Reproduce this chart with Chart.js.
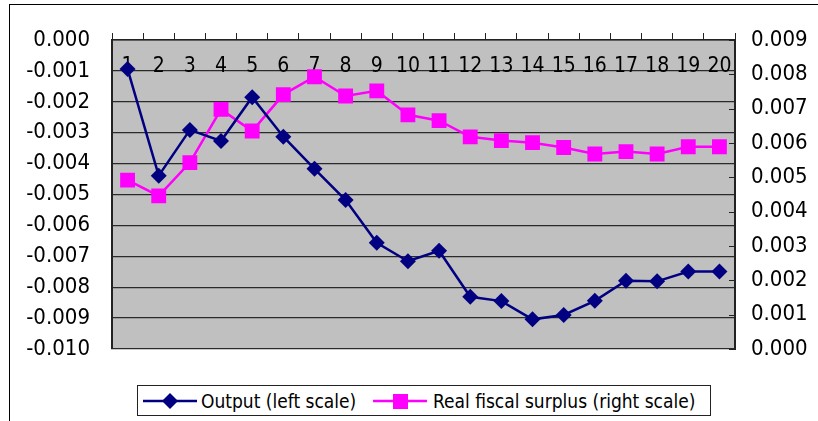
<!DOCTYPE html>
<html>
<head>
<meta charset="utf-8">
<title>Output and real fiscal surplus</title>
<script src="https://cdn.jsdelivr.net/npm/chart.js"></script>
<style>
    body {
        margin: 0;
        background: #fff;
        font-family: "Liberation Sans Narrow", "DejaVu Sans Condensed", "Liberation Sans", sans-serif;
    }
    #wrap {
        position: relative;
        width: 818px;
        height: 421px;
        overflow: hidden;
    }
    #frame {
        position: absolute;
        left: 9px;
        top: 4px;
        width: 840px;
        height: 450px;
        border: 1px solid #000;
    }
    #chart {
        position: absolute;
        left: 0;
        top: 0;
    }
    #legend {
        position: absolute;
        left: 137px;
        top: 385px;
        width: 574px;
        height: 31px;
        box-sizing: border-box;
        border: 1px solid #222;
        background: #fff;
    }
    #legend svg, #legend span {
        position: absolute;
    }
    #legend span {
        top: 3px;
        font-size: 19px;
        line-height: 24px;
        color: #000;
        white-space: nowrap;
    }
</style>
</head>
<body>
<div id="wrap">
    <div id="frame"></div>
    <canvas id="chart" width="818" height="421"></canvas>
    <div id="legend"></div>
</div>

<script>
    // periods on the horizontal axis
    var periods = ['1','2','3','4','5','6','7','8','9','10','11','12','13','14','15','16','17','18','19','20'];

    // Output (left scale)
    var output = [-0.00094, -0.00439, -0.00291, -0.00327, -0.00185, -0.00313, -0.00417, -0.00518, -0.00656, -0.00716,
                  -0.00682, -0.00831, -0.00845, -0.00904, -0.00890, -0.00844, -0.00779, -0.00781, -0.00749, -0.00749];

    // Real fiscal surplus (right scale)
    var surplus = [0.00492, 0.00446, 0.00543, 0.00698, 0.00635, 0.00741, 0.00793, 0.00737, 0.00752, 0.00682,
                   0.00665, 0.00618, 0.00607, 0.00601, 0.00587, 0.00568, 0.00575, 0.00568, 0.00589, 0.00589];

    // axis ticks
    var leftTicks = [0, -0.001, -0.002, -0.003, -0.004, -0.005, -0.006, -0.007, -0.008, -0.009, -0.010];
    var rightTicks = [0.009, 0.008, 0.007, 0.006, 0.005, 0.004, 0.003, 0.002, 0.001, 0];

    var seriesNames = ['Output (left scale)', 'Real fiscal surplus (right scale)'];
    var navy = '#000080';
    var magenta = '#ff00ff';
    var axisFont = { family: '"Liberation Sans Narrow", "DejaVu Sans Condensed", sans-serif', size: 22 };

    function fmt(v) {
        if (Math.abs(v) < 1e-9) v = 0;
        return v.toFixed(3);
    }

    // grey plot area
    var plotBackground = {
        id: 'plotBackground',
        beforeDraw: function(chart) {
            var a = chart.chartArea, ctx = chart.ctx;
            ctx.save();
            ctx.fillStyle = '#c0c0c0';
            ctx.fillRect(a.left, a.top, a.right - a.left, a.bottom - a.top);
            ctx.restore();
        }
    };

    // category labels sit just inside the top of the plot, behind the lines
    var innerLabels = {
        id: 'innerLabels',
        beforeDatasetsDraw: function(chart) {
            var x = chart.scales.x, ctx = chart.ctx;
            ctx.save();
            ctx.font = '21px ' + axisFont.family;
            ctx.fillStyle = '#000';
            ctx.textAlign = 'center';
            ctx.textBaseline = 'middle';
            periods.forEach(function(p, i) {
                ctx.fillText(p, x.getPixelForValue(i), chart.chartArea.top + 27);
            });
            ctx.restore();
        }
    };

    // short tick marks pointing inward on the right axis
    var rightTickMarks = {
        id: 'rightTickMarks',
        afterDatasetsDraw: function(chart) {
            var y1 = chart.scales.y1, ctx = chart.ctx, r = chart.chartArea.right;
            ctx.save();
            ctx.strokeStyle = '#222';
            ctx.lineWidth = 1;
            rightTicks.forEach(function(t) {
                var py = Math.round(y1.getPixelForValue(t)) + 0.5;
                ctx.beginPath();
                ctx.moveTo(r - 6, py);
                ctx.lineTo(r, py);
                ctx.stroke();
            });
            ctx.restore();
        }
    };

    var ctx = document.getElementById('chart').getContext('2d');
    var chart = new Chart(ctx, {
        type: 'line',
        data: {
            labels: periods,
            datasets: [{
                label: seriesNames[0],
                data: output,
                yAxisID: 'y',
                borderColor: navy,
                backgroundColor: navy,
                borderWidth: 2.5,
                pointStyle: 'rectRot',
                pointRadius: 8,
                pointBorderWidth: 0,
                tension: 0
            }, {
                label: seriesNames[1],
                data: surplus,
                yAxisID: 'y1',
                borderColor: magenta,
                backgroundColor: magenta,
                borderWidth: 2.5,
                pointStyle: 'rect',
                pointRadius: 10.5,
                pointBorderWidth: 0,
                tension: 0
            }]
        },
        options: {
            responsive: false,
            animation: false,
            layout: { padding: { left: 0, right: 0, top: 0, bottom: 72 } },
            plugins: {
                legend: { display: false },
                tooltip: { enabled: false }
            },
            scales: {
                x: {
                    position: 'top',
                    offset: true,
                    afterFit: function(s) { s.height = 40; },
                    grid: { drawOnChartArea: false, offset: true, tickLength: 7, color: '#222' },
                    border: { display: true, color: '#222', width: 1.5 },
                    ticks: { display: false }
                },
                y: {
                    position: 'left',
                    min: -0.010,
                    max: 0,
                    afterFit: function(s) { s.width = 112; },
                    afterBuildTicks: function(s) { s.ticks = leftTicks.map(function(v) { return { value: v }; }); },
                    grid: { color: '#2a2a2a', lineWidth: 1.3, drawTicks: false },
                    border: { display: true, color: '#222', width: 2 },
                    ticks: { color: '#000', font: axisFont, padding: 22, callback: fmt }
                },
                y1: {
                    position: 'right',
                    min: 0,
                    max: 0.009,
                    afterFit: function(s) { s.width = 818 - 735; },
                    afterBuildTicks: function(s) { s.ticks = rightTicks.map(function(v) { return { value: v }; }); },
                    grid: { drawOnChartArea: false, drawTicks: false },
                    border: { display: true, color: '#222', width: 2 },
                    ticks: { color: '#000', font: axisFont, padding: 16, callback: fmt }
                }
            }
        },
        plugins: [plotBackground, innerLabels, rightTickMarks]
    });

    // legend box with line + marker samples like the original
    function legendItem(svgLeft, textLeft, color, marker, name) {
        var svg = '<svg style="left:' + svgLeft + 'px;top:0" width="56" height="29">' +
            '<line x1="0" y1="15" x2="54" y2="15" stroke="' + color + '" stroke-width="2.5"/>';
        if (marker === 'diamond') {
            svg += '<polygon points="27,7 35,15 27,23 19,15" fill="' + color + '"/>';
        } else {
            svg += '<rect x="20" y="8" width="15" height="15" fill="' + color + '"/>';
        }
        svg += '</svg>';
        return svg + '<span style="left:' + textLeft + 'px">' + name + '</span>';
    }
    document.getElementById('legend').innerHTML =
        legendItem(5, 63, navy, 'diamond', seriesNames[0]) +
        legendItem(235, 295, magenta, 'square', seriesNames[1]);
</script>
</body>
</html>
